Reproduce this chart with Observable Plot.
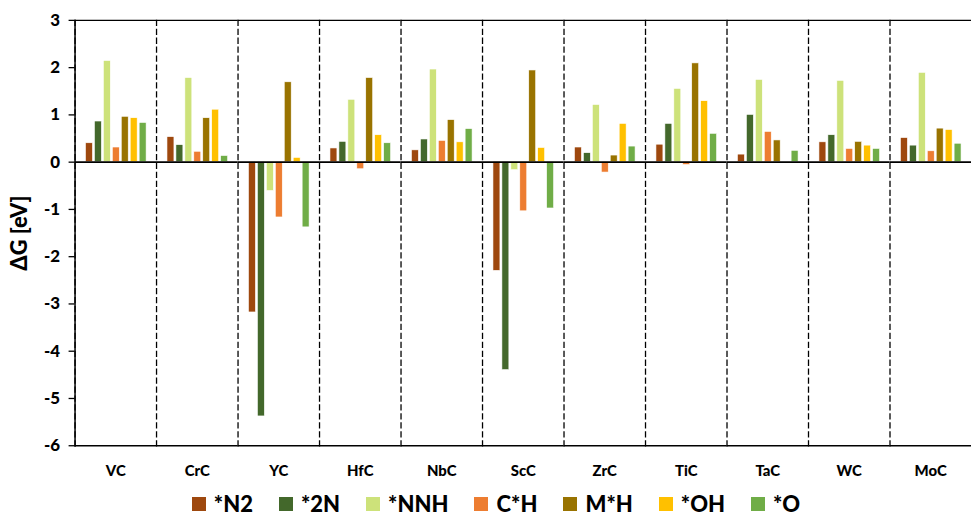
<!DOCTYPE html>
<html>
<head>
<meta charset="utf-8">
<script src="https://cdn.jsdelivr.net/npm/d3@7"></script>
<script src="https://cdn.jsdelivr.net/npm/@observablehq/plot@0.6"></script>
<style>
  html, body { margin: 0; padding: 0; background: #fff; overflow: hidden; width: 972px; }
  #chart svg { display: block; }
  #legend { display: flex; justify-content: center; align-items: center; gap: 26px;
    font-family: Lato, "Open Sans", sans-serif; font-weight: 900; font-size: 22px; color: #000;
    margin-top: 8px; padding-left: 20px; width: 972px; box-sizing: border-box; }
  #legend .item { display: flex; align-items: center; gap: 8px; }
  #legend .sw { width: 14px; height: 14px; display: inline-block; }
</style>
</head>
<body>
<div id="chart"></div>
<div id="legend"></div>
<script>
const categories = ["VC", "CrC", "YC", "HfC", "NbC", "ScC", "ZrC", "TiC", "TaC", "WC", "MoC"];
const series = ["*N2", "*2N", "*NNH", "C*H", "M*H", "*OH", "*O"];
const colors = ["#9E480E", "#43682B", "#CDE27A", "#ED7D31", "#997300", "#FFC000", "#70AD47"];

const valN2  = [0.40, 0.53, -3.18, 0.29, 0.25, -2.30, 0.31, 0.37, 0.16, 0.42, 0.51];
const val2N  = [0.86, 0.36, -5.38, 0.43, 0.48, -4.40, 0.19, 0.81, 1.00, 0.57, 0.35];
const valNNH = [2.14, 1.78, -0.61, 1.32, 1.96, -0.17, 1.21, 1.55, 1.74, 1.72, 1.89];
const valCH  = [0.31, 0.22, -1.17, -0.15, 0.45, -1.04, -0.22, -0.06, 0.64, 0.28, 0.23];
const valMH  = [0.96, 0.93, 1.69, 1.78, 0.89, 1.94, 0.14, 2.09, 0.46, 0.43, 0.71];
const valOH  = [0.93, 1.11, 0.09, 0.57, 0.42, 0.30, 0.81, 1.29, 0, 0.35, 0.68];
const valO   = [0.83, 0.13, -1.38, 0.40, 0.70, -0.98, 0.33, 0.60, 0.24, 0.28, 0.39];

const yTicks = [3, 2, 1, 0, -1, -2, -3, -4, -5, -6];

const seriesValues = [valN2, val2N, valNNH, valCH, valMH, valOH, valO];
const data = [];
categories.forEach((c, i) => {
  series.forEach((s, j) => data.push({cat: c, series: s, value: seriesValues[j][i]}));
});

const font = "Lato, 'Open Sans', sans-serif";

const chart = Plot.plot({
  width: 978,
  height: 485,
  marginLeft: 74,
  marginRight: 0,
  marginTop: 20,
  marginBottom: 37,
  style: {fontFamily: font, fontWeight: "bold", color: "#000", background: "#fff"},
  fx: {domain: categories, padding: 0, label: null},
  x: {domain: series, paddingInner: 0.25, paddingOuter: 0.85, axis: null},
  y: {domain: [-6, 3], ticks: yTicks, label: null},
  color: {domain: series, range: colors},
  marks: [
    Plot.frame({anchor: "left", stroke: "#000", strokeWidth: 1.3, strokeDasharray: "5,4"}),
    Plot.barY(data, {fx: "cat", x: "series", y: "value", fill: "series", stroke: "#fff", strokeWidth: 0.6}),
    Plot.ruleY([0], {stroke: "#000", strokeWidth: 1.6}),
    Plot.ruleY([3, -6], {stroke: "#000", strokeWidth: 1.3}),
    Plot.frame({anchor: "left", facet: "super", stroke: "#000", strokeWidth: 1.5}),
    Plot.axisY({ticks: yTicks, tickFormat: d => String(d), tickSize: 6, tickPadding: 9, fontSize: 17, fontWeight: 900, strokeWidth: 1.3,
      label: "ΔG [eV]", labelAnchor: "center", labelArrow: "none", labelOffset: 64}),
    Plot.axisFx({anchor: "bottom", tickSize: 0, tickPadding: 20, fontSize: 15, fontWeight: 900, label: null})
  ]
});
document.getElementById("chart").appendChild(chart);

// y label: larger and heavy
chart.querySelectorAll("g[aria-label='y-axis label'] text, g[aria-label='y-axis label']").forEach(t => {
  t.setAttribute("font-size", "22");
  t.setAttribute("font-weight", "900");
  t.style.fontSize = "22px";
  t.style.fontWeight = "900";
});

const legend = document.getElementById("legend");
series.forEach((s, i) => {
  const item = document.createElement("span");
  item.className = "item";
  const sw = document.createElement("span");
  sw.className = "sw";
  sw.style.background = colors[i];
  const tx = document.createElement("span");
  tx.textContent = s;
  item.appendChild(sw); item.appendChild(tx);
  legend.appendChild(item);
});
</script>
</body>
</html>
